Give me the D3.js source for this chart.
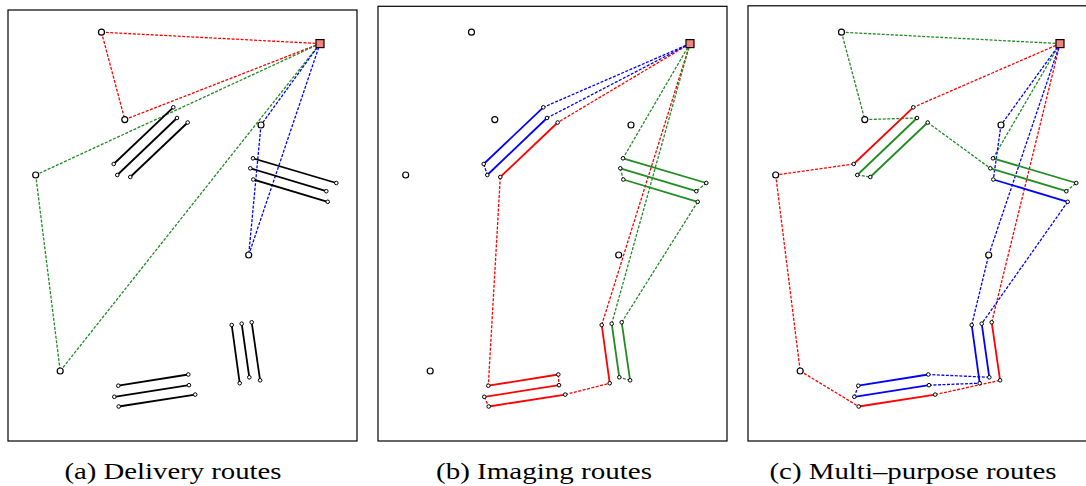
<html>

<head>
    <title>Routes</title>
    <meta charset="utf-8">
    <style>
        body { margin: 0; background: #fff; }

        .frame {
            fill: none;
            stroke: #000;
            stroke-width: 1.2px;
        }

        .legs line {
            stroke-width: 1.3px;
            stroke-dasharray: 3, 1.5;
        }

        .segs line {
            stroke-width: 1.8px;
        }

        .ends circle {
            fill: #fff;
            stroke: #000;
            stroke-width: 1px;
        }

        .customers circle {
            fill: #fff;
            stroke: #000;
            stroke-width: 1.2px;
        }

        .depot rect {
            fill: #f4837d;
            stroke: #000;
            stroke-width: 1.2px;
        }

        .caption {
            font-family: "Liberation Serif", serif;
            font-size: 24px;
        }
    </style>
</head>

<body>
    <svg width="1086" height="486"></svg>
    <script src="https://d3js.org/d3.v7.min.js"></script>

    <script>
        // map units, y measured upwards from the lower frame edge
        var depot = [312, 397.4];

        var customers = [
            [93.5, 408.8], [116.8, 321.4], [27.7, 266],
            [52.2, 70], [253, 316], [240.7, 186]
        ];

        // imaging segments, [start, end]
        var segments = [
            [[105.7, 277], [165.3, 333.7]],
            [[109.3, 266], [169, 323]],
            [[122.3, 264], [179.7, 318.5]],
            [[245, 282.7], [328.3, 258]],
            [[242.3, 272.7], [318.3, 249.8]],
            [[245.3, 261.5], [319.7, 239.2]],
            [[223.7, 116], [231.7, 57.8]],
            [[233.7, 117.3], [241.3, 63.7]],
            [[243.7, 118.7], [252.1, 60.7]],
            [[110.3, 55.3], [180.3, 66.5]],
            [[106.3, 44.2], [181, 55.8]],
            [[110.7, 34.5], [187.2, 46.4]]
        ];

        // route order: vehicle 0, 1, 2
        // "D" depot, "cN" customer, "sN+" / "sN-" segment forward / backward
        var deliveryRoutes = [
            ["D", "c0", "c1", "D"],
            ["D", "c2", "c3", "D"],
            ["D", "c4", "c5", "D"]
        ];

        var imagingRoutes = [
            ["D", "s2-", "s9+", "s10-", "s11+", "s6-", "D"],
            ["D", "s3+", "s4-", "s5+", "s8+", "s7-", "D"],
            ["D", "s0-", "s1+", "D"]
        ];

        var multiRoutes = [
            ["D", "s0-", "c2", "c3", "s11+", "s8-", "D"],
            ["D", "c0", "c1", "s1-", "s2+", "s4+", "s3-", "D"],
            ["D", "c4", "s5+", "s7+", "s9-", "s10+", "s6-", "c5", "D"]
        ];

        var captions = ["(a) Delivery routes", "(b) Imaging routes", "(c) Multi\u2013purpose routes"];

        var panels = [
            { routes: deliveryRoutes, blackSegments: true, dx: 0, top: 10, cx: 173, tw: 217 },
            { routes: imagingRoutes, blackSegments: false, dx: 370, top: 6.3, cx: 544, tw: 216 },
            { routes: multiRoutes, blackSegments: false, dx: 740, top: 5.8, cx: 913, tw: 287 }
        ];

        var svg = d3.select("svg");

        var color = d3.scaleOrdinal()
            .domain([0, 1, 2])
            .range(["#ff0000", "#228b22", "#0000ff"]);

        function stopPoint(tok) {
            if (tok == "D") return depot;
            return customers[+tok.slice(1)];
        }

        // turn a route into dashed legs and solid imaging passes
        function buildRoute(route) {
            var legs = [], passes = [];
            var cur = stopPoint(route[0]);
            route.slice(1).forEach(function (tok) {
                if (tok[0] == "s") {
                    var s = segments[+tok.slice(1, -1)];
                    var fwd = tok.slice(-1) == "+";
                    var a = fwd ? s[0] : s[1], b = fwd ? s[1] : s[0];
                    legs.push([cur, a]);
                    passes.push([a, b]);
                    cur = b;
                } else {
                    var p = stopPoint(tok);
                    legs.push([cur, p]);
                    cur = p;
                }
            });
            return { legs: legs, passes: passes };
        }

        panels.forEach(function (panel, i) {
            var x = d3.scaleLinear().domain([0, 349]).range([8 + panel.dx, 357 + panel.dx]);
            var y = d3.scaleLinear().domain([0, 431]).range([441, 10]);

            var g = svg.append("g");

            g.append("rect")
                .attr("class", "frame")
                .attr("x", x(0))
                .attr("y", panel.top)
                .attr("width", x(349) - x(0))
                .attr("height", y(0) - panel.top);

            var built = panel.routes.map(buildRoute);

            var legs = [], passes = [];
            built.forEach(function (r, k) {
                r.legs.forEach(function (l) { legs.push({ p: l, k: k }); });
                r.passes.forEach(function (l) { passes.push({ p: l, k: k }); });
            });

            g.append("g")
                .attr("class", "legs")
                .selectAll("line")
                .data(legs)
                .enter().append("line")
                .attr("x1", function (d) { return x(d.p[0][0]); })
                .attr("y1", function (d) { return y(d.p[0][1]); })
                .attr("x2", function (d) { return x(d.p[1][0]); })
                .attr("y2", function (d) { return y(d.p[1][1]); })
                .attr("stroke", function (d) { return color(d.k); });

            var segData = panel.blackSegments
                ? segments.map(function (s) { return { p: s, k: -1 }; })
                : passes;

            g.append("g")
                .attr("class", "segs")
                .selectAll("line")
                .data(segData)
                .enter().append("line")
                .attr("x1", function (d) { return x(d.p[0][0]); })
                .attr("y1", function (d) { return y(d.p[0][1]); })
                .attr("x2", function (d) { return x(d.p[1][0]); })
                .attr("y2", function (d) { return y(d.p[1][1]); })
                .attr("stroke", function (d) { return d.k < 0 ? "#000" : color(d.k); });

            var ends = [];
            segments.forEach(function (s) { ends.push(s[0], s[1]); });

            g.append("g")
                .attr("class", "ends")
                .selectAll("circle")
                .data(ends)
                .enter().append("circle")
                .attr("cx", function (d) { return x(d[0]); })
                .attr("cy", function (d) { return y(d[1]); })
                .attr("r", 1.8);

            g.append("g")
                .attr("class", "customers")
                .selectAll("circle")
                .data(customers)
                .enter().append("circle")
                .attr("cx", function (d) { return x(d[0]); })
                .attr("cy", function (d) { return y(d[1]); })
                .attr("r", 3);

            g.append("g")
                .attr("class", "depot")
                .append("rect")
                .attr("x", x(depot[0]) - 4)
                .attr("y", y(depot[1]) - 4)
                .attr("width", 8)
                .attr("height", 8);

            svg.append("text")
                .attr("class", "caption")
                .attr("x", panel.cx)
                .attr("y", 479)
                .attr("text-anchor", "middle")
                .attr("textLength", panel.tw)
                .attr("lengthAdjust", "spacingAndGlyphs")
                .text(captions[i]);
        });
    </script>

</body>

</html>
